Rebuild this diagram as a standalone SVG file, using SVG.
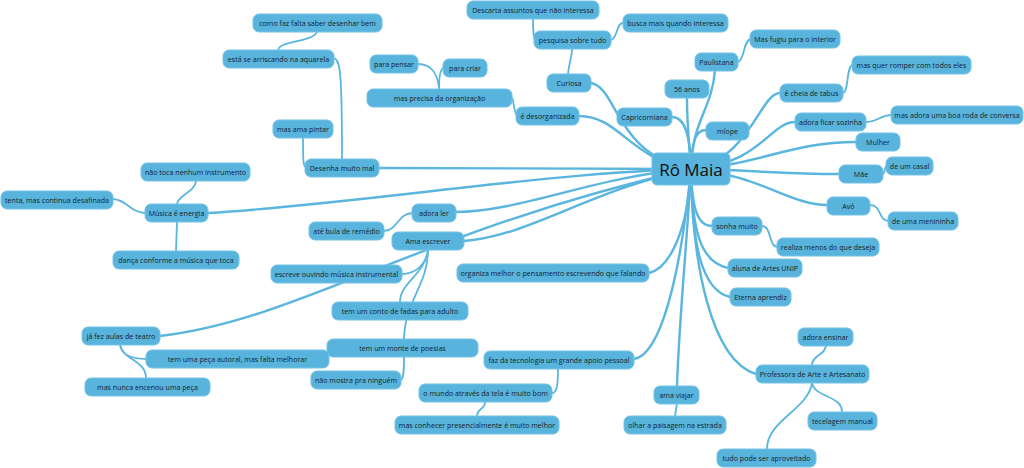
<svg xmlns="http://www.w3.org/2000/svg" width="1024" height="468" viewBox="0 0 1024 468">
<style>
.n rect{fill:#58b4dc;stroke:#74c2e6;stroke-width:1}
.n text{font-family:"Open Sans","DejaVu Sans",sans-serif;font-size:7.1px;fill:#15222c;text-anchor:middle;dominant-baseline:central}
#center text{font-size:17px;fill:#0d0d0d}
#links path{fill:none;stroke:#5ab6de;stroke-width:1.8;stroke-linecap:round}
#links .m{stroke-width:2.4}
</style>
<rect width="1024" height="468" fill="#ffffff"/>
<g id="links">
<path class="m" d="M380,168 C500,168 600,169 691,169"/>
<path class="m" d="M208,213 C350,205 550,172 691,169"/>
<path class="m" d="M456,212 C520,212 600,175 691,169"/>
<path class="m" d="M464,241 C530,236 590,190 691,169"/>
<path class="m" d="M160,336 C300,320 420,230 691,169"/>
<path class="m" d="M579,116 C620,116 630,160 691,169"/>
<path class="m" d="M591,83 C618,88 615,155 691,169"/>
<path class="m" d="M672,117 C685,117 690,135 691,169"/>
<path class="m" d="M687,98 C687,130 690,150 691,169"/>
<path class="m" d="M715,70 C712,110 692,120 691,169"/>
<path class="m" d="M706,130 C696,130 692,140 691,169"/>
<path class="m" d="M780,93 C760,93 750,160 691,169"/>
<path class="m" d="M795,122 C770,122 760,165 691,169"/>
<path class="m" d="M856,142 C790,142 760,165 691,169"/>
<path class="m" d="M839,174 C780,174 750,170 691,169"/>
<path class="m" d="M827,205 C790,205 760,175 691,169"/>
<path class="m" d="M712,226 C698,226 692,210 691,169"/>
<path class="m" d="M728,268 C700,262 692,230 691,169"/>
<path class="m" d="M730,297 C700,290 692,240 691,169"/>
<path class="m" d="M756,374 C710,360 692,260 691,169"/>
<path class="m" d="M677,386 C679,320 688,230 691,169"/>
<path class="m" d="M634,359 C660,355 680,280 691,169"/>
<path class="m" d="M649,273 C670,268 688,230 691,169"/>
<path d="M303,138 C303,160 303,168 307,168"/>
<path d="M334,58 C340,60 342,70 342,159"/>
<path d="M278,50 C280,40 316,42 317,31"/>
<path d="M196,181 C195,192 178,195 177,204"/>
<path d="M113,199 C128,200 130,213 146,213"/>
<path d="M177,222 L176,251"/>
<path d="M568,74 C569,62 572,58 572,49"/>
<path d="M533,19 C533,30 533,40 537,40"/>
<path d="M611,40 C618,38 616,23 623,23"/>
<path d="M512,98 C514,100 514,116 518,116"/>
<path d="M418,64 C432,64 438,75 439,89"/>
<path d="M443,68 C440,70 439,80 439,89"/>
<path d="M738,62 C745,60 743,40 751,39"/>
<path d="M843,93 C849,92 846,65 853,65"/>
<path d="M866,122 C878,122 880,115 892,115"/>
<path d="M883,174 C886,172 884,166 887,166"/>
<path d="M870,205 C882,205 878,221 889,221"/>
<path d="M762,226 C772,226 768,247 778,247"/>
<path d="M826,345 C826,355 812,355 812,365"/>
<path d="M812,383 C815,398 842,395 842,412"/>
<path d="M812,383 C808,410 767,420 767,449"/>
<path d="M677,403 L675,416"/>
<path d="M558,368 C558,385 557,393 552,393"/>
<path d="M485,402 C485,410 477,408 477,416"/>
<path d="M384,231 C398,230 398,213 413,213"/>
<path d="M428,250 C426,265 415,274 402,274"/>
<path d="M428,250 C425,275 400,282 400,302"/>
<path d="M428,250 C428,285 405,300 404,339"/>
<path d="M404,357 C404,370 404,380 400,380"/>
<path d="M120,344 C121,355 132,359 147,359"/>
<path d="M120,344 C122,360 146,360 146,378"/>
</g>
<g id="center" class="n"><rect x="652" y="153" width="78" height="32" rx="5"/><text x="691" y="169">Rô Maia</text></g>
<g id="n1" class="n"><rect x="253" y="14" width="129" height="18" rx="6"/><text x="317.5" y="23">como faz falta saber desenhar bem</text></g>
<g id="n2" class="n"><rect x="223" y="50" width="111" height="18" rx="6"/><text x="278.5" y="59">está se arriscando na aquarela</text></g>
<g id="n3" class="n"><rect x="273" y="120" width="60" height="18" rx="6"/><text x="303" y="129">mas ama pintar</text></g>
<g id="n4" class="n"><rect x="305" y="159" width="74" height="18" rx="6"/><text x="342" y="168">Desenha muito mal</text></g>
<g id="n5" class="n"><rect x="141" y="163" width="109" height="18" rx="6"/><text x="195.5" y="172">não toca nenhum instrumento</text></g>
<g id="n6" class="n"><rect x="1" y="191" width="112" height="18" rx="6"/><text x="57" y="200">tenta, mas continua desafinada</text></g>
<g id="n7" class="n"><rect x="145" y="204" width="63" height="18" rx="6"/><text x="176.5" y="213">Música é energia</text></g>
<g id="n8" class="n"><rect x="113" y="251" width="126" height="18" rx="6"/><text x="176" y="260">dança conforme a música que toca</text></g>
<g id="n9" class="n"><rect x="467" y="1" width="132" height="18" rx="6"/><text x="533" y="10">Descarta assuntos que não interessa</text></g>
<g id="n10" class="n"><rect x="623" y="14" width="105" height="18" rx="6"/><text x="675.5" y="23">busca mais quando interessa</text></g>
<g id="n11" class="n"><rect x="534" y="31" width="77" height="18" rx="6"/><text x="572.5" y="40">pesquisa sobre tudo</text></g>
<g id="n12" class="n"><rect x="547" y="74" width="44" height="18" rx="6"/><text x="569" y="83">Curiosa</text></g>
<g id="n13" class="n"><rect x="370" y="55" width="48" height="18" rx="6"/><text x="394" y="64">para pensar</text></g>
<g id="n14" class="n"><rect x="443" y="59" width="44" height="18" rx="6"/><text x="465" y="68">para criar</text></g>
<g id="n15" class="n"><rect x="367" y="89" width="145" height="18" rx="6"/><text x="439.5" y="98">mas precisa da organização</text></g>
<g id="n16" class="n"><rect x="516" y="107" width="63" height="18" rx="6"/><text x="547.5" y="116">é desorganizada</text></g>
<g id="n17" class="n"><rect x="617" y="108" width="55" height="18" rx="6"/><text x="644.5" y="117">Capricorniana</text></g>
<g id="n18" class="n"><rect x="665" y="80" width="44" height="18" rx="6"/><text x="687" y="89">56 anos</text></g>
<g id="n19" class="n"><rect x="695" y="53" width="43" height="18" rx="6"/><text x="716.5" y="62">Paulistana</text></g>
<g id="n20" class="n"><rect x="750" y="30" width="90" height="18" rx="6"/><text x="795" y="39">Mas fugiu para o interior</text></g>
<g id="n21" class="n"><rect x="706" y="122" width="43" height="18" rx="6"/><text x="727.5" y="131">míope</text></g>
<g id="n22" class="n"><rect x="780" y="84" width="63" height="18" rx="6"/><text x="811.5" y="93">é cheia de tabus</text></g>
<g id="n23" class="n"><rect x="852" y="56" width="119" height="18" rx="6"/><text x="911.5" y="65">mas quer romper com todos eles</text></g>
<g id="n24" class="n"><rect x="795" y="113" width="71" height="18" rx="6"/><text x="830.5" y="122">adora ficar sozinha</text></g>
<g id="n25" class="n"><rect x="891" y="106" width="132" height="18" rx="6"/><text x="957" y="115">mas adora uma boa roda de conversa</text></g>
<g id="n26" class="n"><rect x="856" y="133" width="44" height="18" rx="6"/><text x="878" y="142">Mulher</text></g>
<g id="n27" class="n"><rect x="839" y="165" width="44" height="18" rx="6"/><text x="861" y="174">Mãe</text></g>
<g id="n28" class="n"><rect x="886" y="157" width="47" height="18" rx="6"/><text x="909.5" y="166">de um casal</text></g>
<g id="n29" class="n"><rect x="827" y="197" width="43" height="18" rx="6"/><text x="848.5" y="206">Avó</text></g>
<g id="n30" class="n"><rect x="888" y="212" width="70" height="18" rx="6"/><text x="923" y="221">de uma menininha</text></g>
<g id="n31" class="n"><rect x="712" y="217" width="50" height="18" rx="6"/><text x="737" y="226">sonha muito</text></g>
<g id="n32" class="n"><rect x="777" y="238" width="102" height="18" rx="6"/><text x="828" y="247">realiza menos do que deseja</text></g>
<g id="n33" class="n"><rect x="728" y="259" width="74" height="18" rx="6"/><text x="765" y="268">aluna de Artes UNIP</text></g>
<g id="n34" class="n"><rect x="730" y="288" width="61" height="18" rx="6"/><text x="760.5" y="297">Eterna aprendiz</text></g>
<g id="n35" class="n"><rect x="798" y="328" width="55" height="18" rx="6"/><text x="825.5" y="337">adora ensinar</text></g>
<g id="n36" class="n"><rect x="756" y="365" width="113" height="18" rx="6"/><text x="812.5" y="374">Professora de Arte e Artesanato</text></g>
<g id="n37" class="n"><rect x="808" y="412" width="69" height="18" rx="6"/><text x="842.5" y="421">tecelagem manual</text></g>
<g id="n38" class="n"><rect x="717" y="449" width="99" height="18" rx="6"/><text x="766.5" y="458">tudo pode ser aproveitado</text></g>
<g id="n39" class="n"><rect x="654" y="386" width="45" height="18" rx="6"/><text x="676.5" y="395">ama viajar</text></g>
<g id="n40" class="n"><rect x="624" y="416" width="102" height="18" rx="6"/><text x="675" y="425">olhar a paisagem na estrada</text></g>
<g id="n41" class="n"><rect x="484" y="351" width="150" height="18" rx="6"/><text x="559" y="360">faz da tecnologia um grande apoio pessoal</text></g>
<g id="n42" class="n"><rect x="419" y="384" width="133" height="18" rx="6"/><text x="485.5" y="393">o mundo através da tela é muito bom</text></g>
<g id="n43" class="n"><rect x="395" y="416" width="164" height="18" rx="6"/><text x="477" y="425">mas conhecer presencialmente é muito melhor</text></g>
<g id="n44" class="n"><rect x="457" y="264" width="192" height="18" rx="6"/><text x="553" y="273">organiza melhor o pensamento escrevendo que falando</text></g>
<g id="n45" class="n"><rect x="412" y="204" width="44" height="18" rx="6"/><text x="434" y="213">adora ler</text></g>
<g id="n46" class="n"><rect x="309" y="222" width="75" height="18" rx="6"/><text x="346.5" y="231">até bula de remédio</text></g>
<g id="n47" class="n"><rect x="392" y="232" width="72" height="18" rx="6"/><text x="428" y="241">Ama escrever</text></g>
<g id="n48" class="n"><rect x="271" y="265" width="131" height="18" rx="6"/><text x="336.5" y="274">escreve ouvindo música instrumental</text></g>
<g id="n49" class="n"><rect x="332" y="302" width="136" height="18" rx="6"/><text x="400" y="311">tem um conto de fadas para adulto</text></g>
<g id="n50" class="n"><rect x="327" y="339" width="151" height="18" rx="6"/><text x="402.5" y="348">tem um monte de poesias</text></g>
<g id="n51" class="n"><rect x="311" y="371" width="90" height="18" rx="6"/><text x="356" y="380">não mostra pra ninguém</text></g>
<g id="n52" class="n"><rect x="82" y="327" width="78" height="18" rx="6"/><text x="121" y="336">já fez aulas de teatro</text></g>
<g id="n53" class="n"><rect x="146" y="350" width="183" height="18" rx="6"/><text x="237.5" y="359">tem uma peça autoral, mas falta melhorar</text></g>
<g id="n54" class="n"><rect x="85" y="378" width="125" height="18" rx="6"/><text x="147.5" y="387">mas nunca encenou uma peça</text></g>
</svg>
